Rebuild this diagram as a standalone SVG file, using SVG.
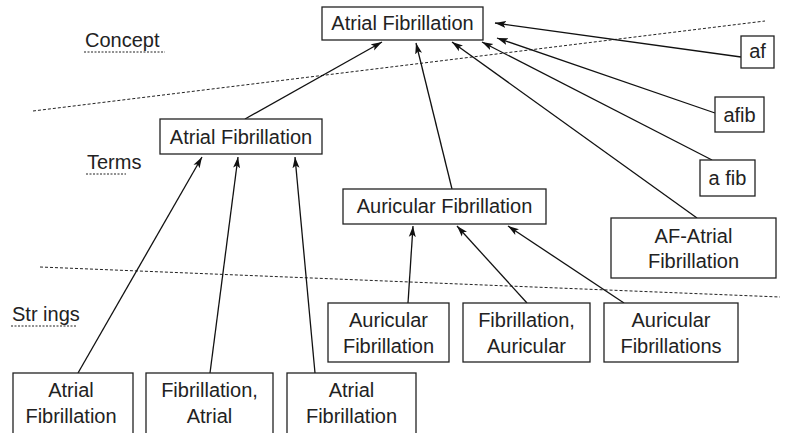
<svg xmlns="http://www.w3.org/2000/svg" width="790" height="433" viewBox="0 0 790 433">
<defs>
<marker id="arr" markerUnits="userSpaceOnUse" markerWidth="12" markerHeight="8" refX="11" refY="4" orient="auto">
<path d="M0,0.5 L11,4 L0,7.5 L2.5,4 z" fill="#111"/>
</marker>
<style>
.box{fill:#fff;stroke:#222;stroke-width:1.3}
.t{font-family:"Liberation Sans",Arial,sans-serif;font-size:20px;fill:#222;text-anchor:middle}
.lbl{font-family:"Liberation Sans",Arial,sans-serif;font-size:20px;fill:#222}
.dash{stroke:#222;stroke-width:1;stroke-dasharray:3,2;fill:none}
.ul{stroke:#222;stroke-width:1;stroke-dasharray:2,1.5;fill:none}
.c{stroke:#111;stroke-width:1.3;fill:none;marker-end:url(#arr)}
</style>
</defs>
<rect width="790" height="433" fill="#fff"/>
<g id="separators">
<line class="dash" x1="33" y1="111" x2="765" y2="21"/>
<line class="dash" x1="40" y1="267" x2="780" y2="297"/>
</g>
<g id="labels">
<text class="lbl" x="85" y="47">Concept</text>
<line class="ul" x1="84" y1="52" x2="165" y2="52"/>
<text class="lbl" x="87" y="169">Terms</text>
<line class="ul" x1="86" y1="174" x2="126" y2="174"/>
<text class="lbl" x="12" y="321">Str ings</text>
<line class="ul" x1="11" y1="326" x2="77" y2="326"/>
</g>
<g id="connectors">
<line class="c" x1="245" y1="119" x2="382" y2="42"/>
<line class="c" x1="452" y1="189" x2="416" y2="43"/>
<line class="c" x1="697" y1="218" x2="452" y2="42"/>
<line class="c" x1="712" y1="160" x2="482" y2="42"/>
<line class="c" x1="715" y1="113" x2="497" y2="38"/>
<line class="c" x1="741" y1="57" x2="495" y2="23"/>
<line class="c" x1="78" y1="373" x2="202" y2="157"/>
<line class="c" x1="210" y1="373" x2="238" y2="157"/>
<line class="c" x1="315" y1="373" x2="295" y2="157"/>
<line class="c" x1="408" y1="303" x2="413" y2="226"/>
<line class="c" x1="527" y1="303" x2="457" y2="226"/>
<line class="c" x1="624" y1="303" x2="508" y2="226"/>
</g>
<g id="concept">
<rect class="box" x="322" y="7" width="161" height="33"/>
<text class="t" x="402.5" y="30">Atrial Fibrillation</text>
</g>
<g id="term-atrial">
<rect class="box" x="160" y="119" width="162" height="35"/>
<text class="t" x="241" y="144">Atrial Fibrillation</text>
</g>
<g id="term-auricular">
<rect class="box" x="343" y="189" width="203" height="35"/>
<text class="t" x="444.5" y="213">Auricular Fibrillation</text>
</g>
<g id="term-af-atrial">
<rect class="box" x="611" y="218" width="165" height="60"/>
<text class="t" x="693.5" y="243">AF-Atrial</text>
<text class="t" x="693.5" y="268">Fibrillation</text>
</g>
<g id="af">
<rect class="box" x="741" y="36" width="33" height="32"/>
<text class="t" x="757.5" y="58">af</text>
</g>
<g id="afib">
<rect class="box" x="715" y="97" width="49" height="35"/>
<text class="t" x="739.5" y="122">afib</text>
</g>
<g id="a-fib">
<rect class="box" x="700" y="160" width="55" height="36"/>
<text class="t" x="727.5" y="185">a fib</text>
</g>
<g id="str-auricular-1">
<rect class="box" x="328" y="303" width="121" height="59"/>
<text class="t" x="388.5" y="327">Auricular</text>
<text class="t" x="388.5" y="353">Fibrillation</text>
</g>
<g id="str-fib-auricular">
<rect class="box" x="463" y="303" width="127" height="59"/>
<text class="t" x="526.5" y="327">Fibrillation,</text>
<text class="t" x="526.5" y="353">Auricular</text>
</g>
<g id="str-auricular-plural">
<rect class="box" x="604" y="303" width="134" height="59"/>
<text class="t" x="671" y="327">Auricular</text>
<text class="t" x="671" y="353">Fibrillations</text>
</g>
<g id="str-atrial-1">
<rect class="box" x="13" y="373" width="120" height="70"/>
<text class="t" x="71" y="397">Atrial</text>
<text class="t" x="71" y="423">Fibrillation</text>
</g>
<g id="str-fib-atrial">
<rect class="box" x="146" y="373" width="127" height="70"/>
<text class="t" x="209.5" y="397">Fibrillation,</text>
<text class="t" x="209.5" y="423">Atrial</text>
</g>
<g id="str-atrial-2">
<rect class="box" x="287" y="373" width="129" height="70"/>
<text class="t" x="351.5" y="397">Atrial</text>
<text class="t" x="351.5" y="423">Fibrillation</text>
</g>
</svg>
